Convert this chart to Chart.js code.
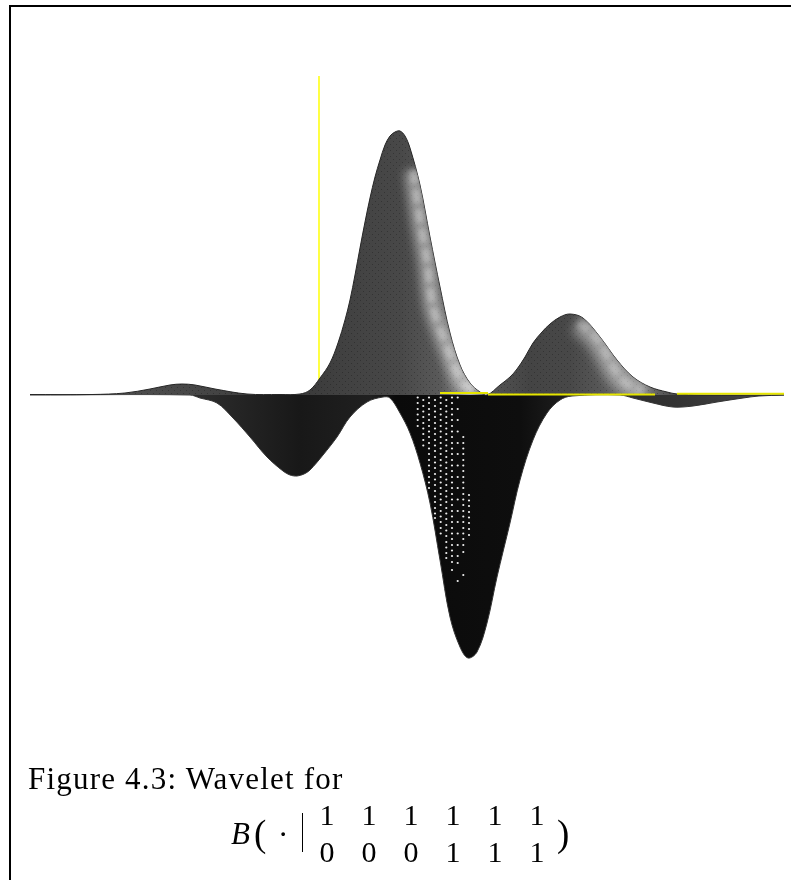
<!DOCTYPE html>
<html>
<head>
<meta charset="utf-8">
<script src="https://cdn.jsdelivr.net/npm/chart.js@4"></script>
<style>
body { margin: 0; background: #fff; width: 791px; height: 880px; overflow: hidden; position: relative; }
canvas { position: absolute; left: 0; top: 0; }
#frame { position: absolute; left: 9px; top: 5px; right: 0; bottom: 0; border-left: 2px solid #000; border-top: 2px solid #000; }
.t { position: absolute; white-space: pre; font: 31px "Liberation Serif", serif; line-height: 0; color: #000; }
.big { font-size: 37px; }
.row { font-size: 30px; word-spacing: 19.5px; left: 319.5px; }
#bar { position: absolute; left: 302px; top: 813px; width: 1px; height: 39px; background: #000; }
</style>
</head>
<body>
<canvas id="waveletChart" width="791" height="880"></canvas>
<div id="frame"></div>
<span class="t" style="left:28px;top:778.5px;letter-spacing:1.2px">Figure 4.3: Wavelet for</span>
<span class="t" style="left:231px;top:833.5px;font-style:italic">B</span>
<span class="t big" style="left:254px;top:833.5px">(</span>
<span class="t" style="left:278px;top:834.5px">·</span>
<span class="t big" style="left:557px;top:833.5px">)</span>
<span class="t row" style="top:815px">1 1 1 1 1 1</span>
<span class="t row" style="top:852px">0 0 0 1 1 1</span>
<div id="bar"></div>
<script>
// surface outline, height above the base plane
const upperX = [30, 92, 125, 150, 170, 182, 195, 215, 247, 280, 300, 310, 320, 330, 338, 345, 350, 355, 360, 365, 370, 375, 380, 385, 390, 395, 400, 405, 410, 420, 430, 440, 450, 460, 470, 480, 487, 500, 510, 517, 525, 533, 542, 550, 560, 570, 583, 600, 617, 633, 650, 667, 677, 700, 784];
const upperY = [0.5, 0.5, 2, 6, 10, 11, 10, 6, 1, 0.5, 1, 5, 17, 32, 52, 75, 95, 120, 147, 173, 197, 218, 235, 250, 259, 263, 264, 259, 247, 210, 158, 108, 62, 30, 12, 3, 0, 10, 18, 26, 38, 52, 63, 71, 78, 81, 77, 58, 35, 18, 8, 3, 1, 0, 0];
const lowerX = [30, 190, 200, 217, 233, 250, 267, 283, 290, 297, 304, 310, 323, 337, 350, 367, 383, 390, 400, 410, 420, 430, 440, 450, 460, 468, 477, 487, 497, 510, 520, 533, 547, 560, 572, 620, 633, 653, 673, 693, 717, 743, 759, 784];
const lowerY = [0, 0, -3, -8, -23, -42, -62, -76, -80, -81, -79, -75, -60, -42, -22, -7, -2, -3, -18, -38, -68, -108, -165, -222, -252, -263, -257, -228, -182, -128, -85, -45, -18, -5, -1, 0, -3, -8, -12, -11, -7, -3, -1, 0];

// bright bands on the right flanks
const ridge1X = [413, 420, 427, 433, 447, 463, 478];
const ridge1Y = [225, 175, 135, 88, 48, 12, 3];
const ridge2X = [578, 590, 600, 617, 630, 645];
const ridge2Y = [72, 64, 52, 22, 9, 3];

// yellow axes
const axisVX = [319, 319];
const axisVY = [319, 10];
const axisH1X = [440, 488];
const axisH1Y = [2, 2];
const axisH2X = [488, 655];
const axisH2Y = [0.5, 0.5];
const axisH3X = [677, 784];
const axisH3Y = [1.3, 1.3];

// white speckles in the deep trough, one list per column
const dotColX = [417.7, 423.3, 429, 435, 440.7, 446.3, 452, 457.7, 463.3, 469];
const dotDepthA = [-2.5, -8, -14, -19.5, -25, -31];
const dotDepthB = [-5, -11, -16.5, -22, -28, -33.5, -39, -45, -50.5];
const dotDepthC = [-2.5, -8, -14, -19.5, -25, -31, -36.5, -42, -48, -53.5, -59, -65, -70.5, -76, -82, -87.5, -93];
const dotDepthD = [-5, -11, -16.5, -22, -28, -33.5, -39, -45, -50.5, -56, -62, -67.5, -73, -79, -84.5, -90, -96, -101.5, -107, -113, -118.5, -123];
const dotDepthE = [-2.5, -8, -14, -19.5, -25, -31, -36.5, -42, -48, -53.5, -59, -65, -70.5, -76, -82, -87.5, -93, -99, -104.5, -110, -116, -121.5, -127, -133, -138.5];
const dotDepthF = [-5, -11, -16.5, -22, -28, -33.5, -39, -45, -50.5, -56, -62, -67.5, -73, -79, -84.5, -90, -96, -101.5, -107, -113, -118.5, -124, -130, -135.5, -141, -147, -152.5, -158, -163];
const dotDepthG = [-2.5, -8, -14, -19.5, -25, -31, -36.5, -42, -48, -53.5, -59, -65, -70.5, -76, -82, -87.5, -93, -99, -104.5, -110, -116, -121.5, -127, -133, -138.5, -144, -150, -155.5, -161, -167, -175];
const dotDepthH = [-2.5, -14, -25, -36.5, -48, -59, -70.5, -82, -93, -104.5, -116, -127, -138.5, -150, -161, -168, -186];
const dotDepthI = [-42, -48, -53.5, -59, -65, -70.5, -76, -82, -87.5, -93, -99, -104.5, -110, -116, -121.5, -127, -133, -138.5, -144, -150, -157, -180];
const dotDepthJ = [-100, -105.5, -111, -117, -122.5, -128, -134, -140];

const dotDepths = [dotDepthA, dotDepthB, dotDepthC, dotDepthD, dotDepthE, dotDepthF, dotDepthG, dotDepthH, dotDepthI, dotDepthJ];

function pairs(xs, ys) {
    return xs.map((x, i) => ({ x: x, y: ys[i] }));
}

const dots = [];
dotDepths.forEach((col, i) => col.forEach(y => dots.push({ x: dotColX[i], y: y })));

const ctx = document.getElementById('waveletChart').getContext('2d');

function sideGradient(stops) {
    const g = ctx.createLinearGradient(0, 0, 791, 0);
    stops.forEach(s => g.addColorStop(s[0] / 791, s[1]));
    return g;
}

// the fine dither seen on the surface
function ditherPattern(color) {
    const c = document.createElement('canvas');
    c.width = 6;
    c.height = 6;
    const p = c.getContext('2d');
    p.fillStyle = color;
    p.fillRect(0, 0, 1, 1);
    p.fillRect(3, 3, 1, 1);
    return ctx.createPattern(c, 'repeat');
}

const upperFill = sideGradient([[30, '#666'], [100, '#505050'], [180, '#484848'], [300, '#3a3a3a'], [350, '#424242'], [400, '#484848'], [440, '#5a5a5a'], [470, '#8a8a8a'], [487, '#555'], [530, '#444'], [570, '#484848'], [610, '#5c5c5c'], [650, '#6a6a6a'], [680, '#444'], [791, '#333']]);
const lowerFill = sideGradient([[190, '#2e2e2e'], [250, '#222'], [300, '#181818'], [370, '#202020'], [395, '#0a0a0a'], [520, '#0e0e0e'], [560, '#1c1c1c'], [620, '#2c2c2c'], [680, '#333'], [760, '#444']]);

function area(xs, ys, fill, border) {
    return {
        data: pairs(xs, ys),
        tension: 0.35,
        pointRadius: 0,
        fill: 'origin',
        backgroundColor: fill,
        borderColor: border,
        borderWidth: border === 'transparent' ? 0 : 1
    };
}

function straight(xs, ys, color, width) {
    return { data: pairs(xs, ys), pointRadius: 0, borderColor: color, borderWidth: width, fill: false };
}

function ridge(xs, ys, width, blur, alpha, dash) {
    return {
        data: pairs(xs, ys),
        tension: 0.3,
        pointRadius: 0,
        fill: false,
        borderColor: 'rgba(255,255,255,' + alpha + ')',
        borderWidth: width,
        borderDash: dash,
        blur: blur
    };
}

const plainUpper = area(upperX, upperY, upperFill, '#262626');

// index 0 is drawn last
const datasets = [
    straight(axisH1X, axisH1Y, '#e6e600', 2),
    straight(axisH2X, axisH2Y, '#e6e600', 2),
    straight(axisH3X, axisH3Y, '#e6e600', 2),
    { data: dots, showLine: false, pointRadius: 1.1, pointBackgroundColor: '#eee', pointBorderWidth: 0 },
    ridge(ridge1X, ridge1Y, 8, 2, 0.25, [13, 7]),
    ridge(ridge2X, ridge2Y, 8, 2, 0.2, [12, 6]),
    ridge(ridge1X, ridge1Y, 18, 5, 0.42, []),
    ridge(ridge2X, ridge2Y, 22, 6, 0.45, []),
    area(upperX, upperY, ditherPattern('rgba(0,0,0,0.25)'), 'transparent'),
    plainUpper,
    area(lowerX, lowerY, lowerFill, '#333'),
    straight(axisVX, axisVY, '#ffff44', 2)
];

const ridgeBlur = {
    id: 'ridgeBlur',
    beforeDatasetDraw(chart, args) {
        const ds = chart.data.datasets[args.index];
        if (!ds.blur) return;
        const c = chart.ctx;
        c.save();
        c.beginPath();
        chart.getDatasetMeta(datasets.indexOf(plainUpper)).dataset.path(c);
        c.closePath();
        c.clip();
        c.filter = 'blur(' + ds.blur + 'px)';
    },
    afterDatasetDraw(chart, args) {
        if (chart.data.datasets[args.index].blur) chart.ctx.restore();
    }
};

const waveletChart = new Chart(ctx, {
    type: 'line',
    data: { datasets: datasets },
    plugins: [ridgeBlur],
    options: {
        responsive: false,
        animation: false,
        layout: { padding: 0, autoPadding: false },
        plugins: { legend: { display: false }, tooltip: { enabled: false }, title: { display: false } },
        scales: {
            x: { type: 'linear', display: false, min: 0, max: 791 },
            y: { type: 'linear', display: false, min: -485, max: 395 }
        }
    }
});
</script>
</body>
</html>
